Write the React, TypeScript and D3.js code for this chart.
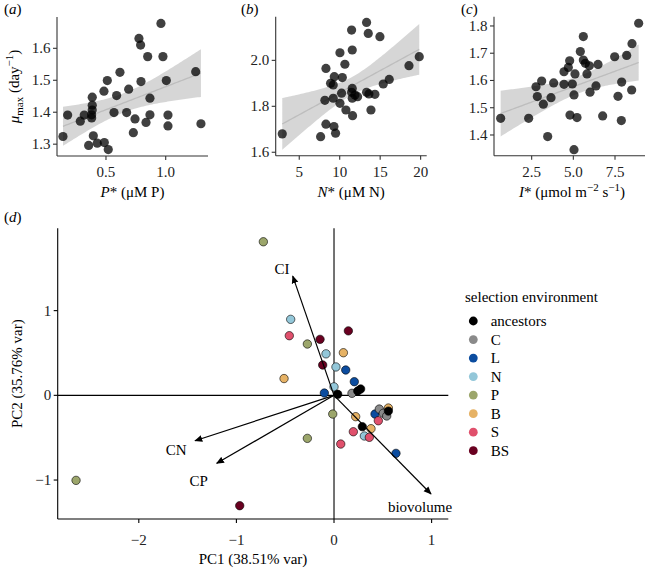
import React from "react";
import * as d3 from "d3";

// ---------- Panel (a) data ----------
const pStar = [0.14,0.179,0.285,0.318,0.355,0.385,0.385,0.385,0.38,0.38,0.394,0.427,0.486,0.519,0.483,0.511,0.567,0.589,0.617,0.673,0.69,0.743,0.729,0.776,0.79,0.793,0.849,0.835,0.868,0.868,0.96,0.977,1.005,1.019,1.019,1.251,1.295];
const muA = [1.324,1.391,1.372,1.391,1.296,1.447,1.422,1.407,1.392,1.382,1.326,1.303,1.305,1.283,1.466,1.499,1.399,1.452,1.525,1.399,1.472,1.379,1.336,1.631,1.61,1.496,1.574,1.368,1.444,1.392,1.678,1.574,1.499,1.391,1.357,1.527,1.364];

// ---------- Panel (b) data ----------
const nStar = [2.9,7.64,8.3,8.3,8.17,8.87,9.2,9.33,9.2,9.29,9.49,10.03,10.03,10.23,10.32,10.64,10.77,11.47,11.55,11.55,11.47,11.55,11.59,11.88,12.21,13.32,13.53,13.32,13.61,13.86,14.35,14.97,15.38,16.12,18.56,19.83];
const muB = [1.68,1.668,1.722,1.965,1.826,1.9,1.893,1.929,1.835,1.712,1.683,2.033,1.813,1.857,1.925,1.983,1.784,2.132,2.045,1.878,1.861,1.835,1.759,1.849,1.842,2.165,2.117,1.861,1.854,1.784,1.852,2.103,1.897,1.917,1.977,2.016];

// ---------- Panel (c) data ----------
const iStar = [0.64,2.32,2.76,2.84,3.1,3.2,3.46,3.66,3.82,4.44,4.44,4.7,4.78,4.8,4.94,5.04,5.04,5.1,5.22,5.42,5.6,5.6,5.72,5.82,5.96,6.0,6.36,6.48,6.76,7.48,7.68,7.9,7.88,8.2,8.5,8.52,8.92];
const muC = [1.461,1.461,1.577,1.541,1.598,1.513,1.394,1.537,1.591,1.632,1.586,1.648,1.672,1.473,1.587,1.547,1.346,1.624,1.464,1.706,1.761,1.675,1.663,1.624,1.654,1.557,1.58,1.659,1.47,1.687,1.542,1.594,1.453,1.692,1.565,1.735,1.81];

// axis settings
const aXDomain = [0.09, 1.354];
const aYDomain = [1.263, 1.698];
const aXTicks = [0.5, 1.0];
const aYTicks = [1.3, 1.4, 1.5, 1.6];
const bXDomain = [2.09, 20.75];
const bYDomain = [1.585, 2.19];
const bXTicks = [5, 10, 15, 20];
const bYTicks = [1.6, 1.8, 2.0];
const cXDomain = [0.24, 9.3];
const cYDomain = [1.324, 1.834];
const cXTicks = [2.5, 5.0, 7.5];
const cYTicks = [1.4, 1.5, 1.6, 1.7, 1.8];

// ---------- Panel (d) PCA data ----------
const groups = ["ancestors", "C", "L", "N", "P", "B", "S", "BS"];
const groupColors = ["#000000", "#8a8a8a", "#0b4c9f", "#93c7d9", "#9ca66b", "#e6b265", "#e0506c", "#690020"];
const pcaGroup = [
  "P","N","S","P","BS","BS","B","BS","P","P","BS",
  "N","B","N","L","L","N","L","C","ancestors","ancestors","ancestors",
  "P","B","L","C","C","C","B","ancestors","S","S","ancestors","B","N","S","S","L"
];
const pc1 = [
  -0.724,-0.444,-0.458,-0.273,-0.143,0.147,-0.512,-0.116,-0.273,-2.643,-0.966,
  -0.082,0.096,0.02,0.12,0.208,0.0,-0.099,0.184,0.038,0.243,0.273,
  -0.013,0.222,0.42,0.464,0.505,0.54,0.557,0.557,0.454,0.198,0.29,0.379,0.311,0.362,0.069,0.635
];
const pc2 = [
  1.813,0.897,0.704,0.606,0.661,0.761,0.198,0.358,-0.508,-1.004,-1.303,
  0.49,0.503,0.335,0.299,0.161,0.1,0.027,0.024,0.012,0.051,0.075,
  -0.221,-0.252,-0.221,-0.162,-0.212,-0.244,-0.15,-0.186,-0.3,-0.43,-0.37,-0.394,-0.48,-0.496,-0.575,-0.685
];
const loadVars = ["CI", "CN", "CP", "biovolume"];
const loadX = [-0.423, -1.424, -1.202, 0.994];
const loadY = [1.408, -0.536, -0.803, -1.165];
const loadLabelX = [-0.533, -1.617, -1.386, 0.881];
const loadLabelY = [1.499, -0.646, -1.009, -1.315];
const dXDomain = [-2.831, 1.171];
const dYDomain = [-1.46, 1.972];
const dXTicks = [-2, -1, 0, 1];
const dYTicks = [-1, 0, 1];

const FONT = "'Liberation Serif', 'DejaVu Serif', serif";
const FS = 15;

function tQuant(df: number) {
  const z = 1.959964;
  return z + (z ** 3 + z) / (4 * df) + (5 * z ** 5 + 16 * z ** 3 + 3 * z) / (96 * df * df);
}

function fitLm(xs: number[], ys: number[]) {
  const n = xs.length;
  const mx = d3.mean(xs)!;
  const my = d3.mean(ys)!;
  let sxx = 0, sxy = 0;
  xs.forEach((x, i) => { sxx += (x - mx) ** 2; sxy += (x - mx) * (ys[i] - my); });
  const b = sxy / sxx;
  const a = my - b * mx;
  let sse = 0;
  xs.forEach((x, i) => { sse += (ys[i] - a - b * x) ** 2; });
  const s = Math.sqrt(sse / (n - 2));
  const t = tQuant(n - 2);
  const [x0, x1] = d3.extent(xs) as [number, number];
  const grid = d3.range(80).map((i) => x0 + (i * (x1 - x0)) / 79);
  return grid.map((x) => {
    const yh = a + b * x;
    const se = s * Math.sqrt(1 / n + (x - mx) ** 2 / sxx);
    return { x, y: yh, lo: yh - t * se, hi: yh + t * se };
  });
}

function fmt(v: number, dec: number) {
  const s = v.toFixed(dec);
  return s.replace("-", "\u2212");
}

type ScatterProps = {
  xs: number[]; ys: number[];
  xDomain: number[]; yDomain: number[];
  xRange: number[]; yRange: number[];
  xTicks: number[]; yTicks: number[];
  xDec: number; yDec: number;
};

function Scatter(p: ScatterProps) {
  const x = d3.scaleLinear().domain(p.xDomain).range(p.xRange);
  const y = d3.scaleLinear().domain(p.yDomain).range(p.yRange);
  const fit = fitLm(p.xs, p.ys);
  const area = d3.area<any>().x((d) => x(d.x)).y0((d) => y(d.lo)).y1((d) => y(d.hi));
  const line = d3.line<any>().x((d) => x(d.x)).y((d) => y(d.y));
  const axCol = "#333";
  return (
    <g>
      <path d={area(fit)!} fill="#999999" fillOpacity={0.4} />
      <path d={line(fit)!} fill="none" stroke="#bdbdbd" strokeWidth={1.3} />
      {p.xs.map((v, i) => (
        <circle key={i} cx={x(v)} cy={y(p.ys[i])} r={4.6} fill="#000" fillOpacity={0.75} />
      ))}
      <line x1={p.xRange[0]} x2={p.xRange[1]} y1={p.yRange[0]} y2={p.yRange[0]} stroke={axCol} strokeWidth={1.1} />
      <line x1={p.xRange[0]} x2={p.xRange[0]} y1={p.yRange[0]} y2={p.yRange[1]} stroke={axCol} strokeWidth={1.1} />
      {p.xTicks.map((t) => (
        <g key={"x" + t}>
          <line x1={x(t)} x2={x(t)} y1={p.yRange[0]} y2={p.yRange[0] + 4} stroke={axCol} strokeWidth={1.1} />
          <text x={x(t)} y={p.yRange[0] + 21} textAnchor="middle" fontFamily={FONT} fontSize={FS} fill="#222">{fmt(t, p.xDec)}</text>
        </g>
      ))}
      {p.yTicks.map((t) => (
        <g key={"y" + t}>
          <line x1={p.xRange[0] - 4} x2={p.xRange[0]} y1={y(t)} y2={y(t)} stroke={axCol} strokeWidth={1.1} />
          <text x={p.xRange[0] - 6.5} y={y(t) + 5} textAnchor="end" fontFamily={FONT} fontSize={FS} fill="#222">{fmt(t, p.yDec)}</text>
        </g>
      ))}
    </g>
  );
}

function PcaPanel() {
  const xr = [57.7, 448.3];
  const yr = [519, 228.3];
  const x = d3.scaleLinear().domain(dXDomain).range(xr);
  const y = d3.scaleLinear().domain(dYDomain).range(yr);
  const color = d3.scaleOrdinal<string, string>().domain(groups).range(groupColors);
  return (
    <g>
      <defs>
        <marker id="arrowHead" viewBox="0 0 10 10" refX="9" refY="5" markerWidth="8" markerHeight="8" markerUnits="userSpaceOnUse" orient="auto">
          <path d="M0,0.8 L10,5 L0,9.2 Z" fill="#000" />
        </marker>
      </defs>
      <line x1={xr[0]} x2={xr[1]} y1={y(0)} y2={y(0)} stroke="#000" strokeWidth={1.1} />
      <line x1={x(0)} x2={x(0)} y1={yr[0]} y2={yr[1]} stroke="#000" strokeWidth={1.1} />
      {pc1.map((v, i) => (
        <circle key={i} cx={x(v)} cy={y(pc2[i])} r={4.2} fill={color(pcaGroup[i])} stroke="#000" strokeWidth={0.6} />
      ))}
      {loadVars.map((v, i) => (
        <g key={v}>
          <line x1={x(0)} y1={y(0)} x2={x(loadX[i])} y2={y(loadY[i])} stroke="#000" strokeWidth={1.2} markerEnd="url(#arrowHead)" />
          <text x={x(loadLabelX[i])} y={y(loadLabelY[i])} dy="0.35em" textAnchor="middle" fontFamily={FONT} fontSize={FS} fill="#000">{v}</text>
        </g>
      ))}
      <line x1={xr[0]} x2={xr[1]} y1={yr[0]} y2={yr[0]} stroke="#000" strokeWidth={1.1} />
      <line x1={xr[0]} x2={xr[0]} y1={yr[0]} y2={yr[1]} stroke="#000" strokeWidth={1.1} />
      {dXTicks.map((t) => (
        <g key={"x" + t}>
          <line x1={x(t)} x2={x(t)} y1={yr[0]} y2={yr[0] + 4} stroke="#000" strokeWidth={1.1} />
          <text x={x(t)} y={yr[0] + 26} textAnchor="middle" fontFamily={FONT} fontSize={FS} fill="#222">{fmt(t, 0)}</text>
        </g>
      ))}
      {dYTicks.map((t) => (
        <g key={"y" + t}>
          <line x1={xr[0] - 4} x2={xr[0]} y1={y(t)} y2={y(t)} stroke="#000" strokeWidth={1.1} />
          <text x={xr[0] - 6.5} y={y(t) + 5} textAnchor="end" fontFamily={FONT} fontSize={FS} fill="#222">{fmt(t, 0)}</text>
        </g>
      ))}
      <text x={(xr[0] + xr[1]) / 2} y={563.5} textAnchor="middle" fontFamily={FONT} fontSize={FS} fill="#000">PC1 (38.51% var)</text>
      <text transform={`translate(17,${(yr[0] + yr[1]) / 2}) rotate(-90)`} dy="0.35em" textAnchor="middle" fontFamily={FONT} fontSize={FS} fill="#000">PC2 (35.76% var)</text>
      {/* legend */}
      <text x={465} y={301.5} fontFamily={FONT} fontSize={FS} fill="#000">selection environment</text>
      {groups.map((g, i) => (
        <g key={g}>
          <circle cx={473.3} cy={321 + i * 18.53} r={4.4} fill={groupColors[i]} />
          <text x={490.7} y={321 + i * 18.53} dy="0.35em" fontFamily={FONT} fontSize={FS} fill="#000">{g}</text>
        </g>
      ))}
    </g>
  );
}

export default function App() {
  const sub = 11;
  return (
    <svg width={646} height={572} style={{ position: "absolute", left: 0, top: 0, background: "#fff" }}>
      <rect x={0} y={0} width={646} height={572} fill="#fff" />
      {/* panel a */}
      <Scatter xs={pStar} ys={muA} xDomain={aXDomain} yDomain={aYDomain} xRange={[57, 208]} yRange={[156, 17]} xTicks={aXTicks} yTicks={aYTicks} xDec={1} yDec={1} />
      <text x={4} y={14} fontFamily={FONT} fontSize={FS} fill="#000">(<tspan fontStyle="italic">a</tspan>)</text>
      <text x={132.5} y={197} textAnchor="middle" fontFamily={FONT} fontSize={FS} fill="#000">
        <tspan fontStyle="italic">P</tspan>* (μM P)
      </text>
      <text transform="translate(14,86.5) rotate(-90)" dy="0.35em" textAnchor="middle" fontFamily={FONT} fontSize={FS} fill="#000">
        <tspan fontStyle="italic">μ</tspan>
        <tspan fontSize={sub} dy={4}>max</tspan>
        <tspan dy={-4}> (day</tspan>
        <tspan fontSize={sub} dy={-6}>−1</tspan>
        <tspan dy={6}>)</tspan>
      </text>
      {/* panel b */}
      <Scatter xs={nStar} ys={muB} xDomain={bXDomain} yDomain={bYDomain} xRange={[275.7, 426.7]} yRange={[155.7, 16.7]} xTicks={bXTicks} yTicks={bYTicks} xDec={0} yDec={1} />
      <text x={241} y={14} fontFamily={FONT} fontSize={FS} fill="#000">(<tspan fontStyle="italic">b</tspan>)</text>
      <text x={351.2} y={197} textAnchor="middle" fontFamily={FONT} fontSize={FS} fill="#000">
        <tspan fontStyle="italic">N</tspan>* (μM N)
      </text>
      {/* panel c */}
      <Scatter xs={iStar} ys={muC} xDomain={cXDomain} yDomain={cYDomain} xRange={[494, 645]} yRange={[155.7, 16.7]} xTicks={cXTicks} yTicks={cYTicks} xDec={1} yDec={1} />
      <text x={461} y={14} fontFamily={FONT} fontSize={FS} fill="#000">(<tspan fontStyle="italic">c</tspan>)</text>
      <text x={572} y={197} textAnchor="middle" fontFamily={FONT} fontSize={FS} fill="#000">
        <tspan fontStyle="italic">I</tspan>* (μmol m
        <tspan fontSize={sub} dy={-6}>−2</tspan>
        <tspan dy={6}> s</tspan>
        <tspan fontSize={sub} dy={-6}>−1</tspan>
        <tspan dy={6}>)</tspan>
      </text>
      {/* panel d */}
      <text x={4} y={222} fontFamily={FONT} fontSize={FS} fill="#000">(<tspan fontStyle="italic">d</tspan>)</text>
      <PcaPanel />
    </svg>
  );
}
